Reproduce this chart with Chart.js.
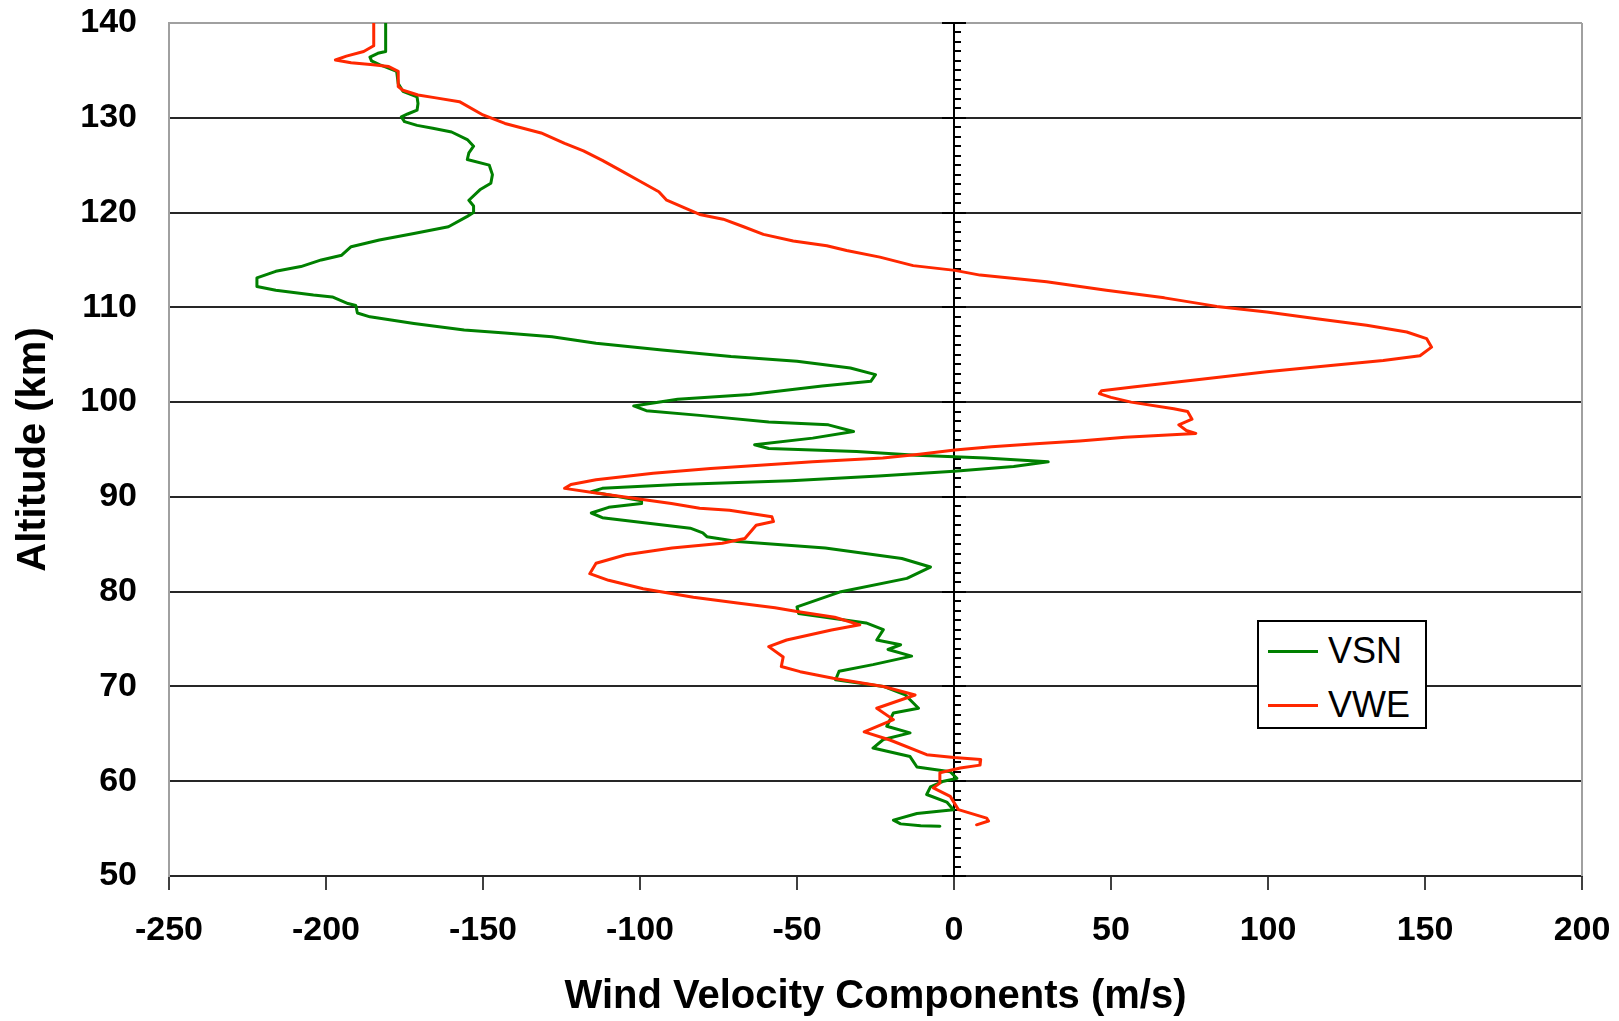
<!DOCTYPE html>
<html>
<head>
<meta charset="utf-8">
<title>Wind Velocity Components</title>
<script src="https://cdn.jsdelivr.net/npm/chart.js@4.4.1/dist/chart.umd.min.js"></script>
<style>
  html, body { margin: 0; padding: 0; background: #fff; }
  #wrap { position: relative; width: 1619px; height: 1021px; }
  #windChart { position: absolute; left: 0; top: 0; }
  #legend {
    position: absolute; left: 1257px; top: 620px; width: 170px; height: 109px;
    box-sizing: border-box; border: 2px solid #000; background: #fff; padding-top: 2px;
    font-family: "Liberation Sans", Arial, sans-serif; font-size: 36px; color: #000;
  }
  #legend .row { height: 54px; line-height: 54px; white-space: nowrap; }
  #legend .swatch {
    display: inline-block; width: 50px; height: 3px; vertical-align: middle;
    margin-left: 9px; margin-right: 10px; position: relative; top: -2px;
  }
</style>
</head>
<body>
<div id="wrap">
  <canvas id="windChart" width="1619" height="1021"></canvas>
  <div id="legend"></div>
</div>
<script>
// 軸の目盛り
const velocityTicks = [-250, -200, -150, -100, -50, 0, 50, 100, 150, 200];
const altitudeTicks = [50, 60, 70, 80, 90, 100, 110, 120, 130, 140];

// VSN (south-north) profile: altitude km / velocity m/s
const vsnAltitude = [140, 137.0, 136.8, 136.4, 136.0, 135.6, 135.3, 134.9, 133.6, 132.8, 132.2, 131.5, 130.8, 130.4, 130.1,
    129.6, 129.2, 128.9, 128.5, 127.7, 127.0, 126.3, 125.6, 125.0, 124.0, 123.1, 122.4, 121.3, 120.7, 120.0,
    119.6, 118.5, 117.8, 117.1, 116.4, 115.5, 115.0, 114.3, 113.8, 113.1, 112.2, 111.8, 111.3, 111.1, 110.4,
    110.2, 109.4, 109.0, 108.3, 107.6, 107.3, 106.9, 106.2, 105.5, 104.8, 104.3, 103.6, 102.9, 102.2, 101.7,
    100.8, 100.3, 99.6, 99.1, 98.6, 97.9, 97.6, 96.9, 96.2, 95.5, 95.1, 94.8, 94.4, 94.1, 93.7,
    93.2, 92.7, 92.2, 91.7, 91.3, 90.9, 90.55, 89.6, 89.3, 88.9, 88.3, 87.8, 87.4, 86.7, 86.2,
    85.8, 85.3, 84.6, 83.5, 82.6, 81.4, 80.0, 78.4, 77.7, 76.7, 76.0, 74.9, 74.4, 73.9, 73.2,
    72.3, 71.6, 70.7, 70.0, 69.1, 67.7, 67.2, 65.8, 65.1, 64.4, 63.5, 62.6, 61.5, 61.0, 60.3,
    60.0, 59.4, 58.6, 57.8, 57.0, 56.6, 55.9, 55.5, 55.3, 55.25];
const vsnVelocity = [-181, -181, -183.5, -186, -185.5, -183, -180.5, -177.5, -177, -175.5, -171, -170.7, -171, -174, -176,
    -175, -171, -166, -160, -155, -153, -154.5, -155, -148, -147, -147.5, -151, -154.5, -153, -153,
    -155, -161, -172, -183, -192, -195, -201.5, -208, -216, -222, -222, -216, -204, -198, -193,
    -190.5, -190, -186, -172, -156, -143, -128, -114, -93, -71, -50, -33, -25, -26.5, -42,
    -65, -88, -102, -98, -81, -59, -40, -32, -45, -63.5, -59, -31, -12, 10, 30,
    19, 0, -24, -52, -88, -112, -115.5, -99.5, -99.5, -110, -115.5, -112, -102, -84, -80,
    -78.7, -69, -41, -16.6, -7.5, -15, -36, -50, -49.5, -28, -22.5, -24.6, -17, -21, -13.5,
    -25.8, -36.6, -37.7, -22.5, -15.5, -11.3, -19.3, -21.4, -14, -22.5, -25.8, -14, -11.8, -1.2, 0.9,
    -3.3, -7.5, -8.7, -2.3, -0.2, -11.8, -19.3, -17, -10.6, -4.5];

// VWE (west-east) profile
const vweAltitude = [140, 137.6, 137.0, 136.5, 136.1, 135.8, 135.6, 135.4, 134.9, 133.3, 132.9, 132.4, 132.1, 131.7, 130.3,
    129.4, 128.4, 127.3, 126.5, 125.5, 124.5, 123.3, 122.2, 121.3, 120.3, 119.8, 119.3, 118.5, 117.7, 117.0,
    116.5, 116.0, 115.3, 114.4, 113.9, 113.4, 112.7, 111.8, 111.0, 110.1, 109.5, 108.8, 108.1, 107.4, 106.7,
    105.8, 104.9, 104.4, 103.9, 103.2, 102.3, 101.6, 101.2, 100.9, 100.5, 100.0, 99.3, 99.0, 98.2, 97.6,
    97.0, 96.7, 96.3, 95.9, 95.6, 95.3, 94.95, 94.5, 94.1, 93.7, 93.0, 92.5, 91.8, 91.3, 90.9,
    90.4, 89.85, 89.3, 88.8, 88.6, 87.9, 87.4, 87.0, 85.6, 85.1, 84.6, 83.9, 83.0, 81.9, 81.2,
    80.3, 79.4, 78.8, 78.3, 77.9, 77.3, 76.5, 75.96, 74.9, 74.2, 73.1, 72.1, 71.56, 70.86, 70.0,
    69.1, 67.7, 66.5, 65.2, 64.35, 62.8, 62.5, 62.3, 61.7, 61.4, 60.9, 59.8, 59.3, 58.4, 57.0,
    56.1, 55.8, 55.4];
const vweVelocity = [-184.8, -184.8, -188, -193.5, -197, -192, -185, -180, -177, -177, -175.5, -170.7, -165, -157.5, -150,
    -143, -131.5, -124, -118, -112, -106.5, -100, -94, -91.5, -84.5, -81, -73.5, -67, -60.7, -51.2,
    -40.5, -34.2, -23.6, -13, 0.3, 8.3, 29.5, 48.5, 67, 83.7, 99.6, 115.5, 131.4, 144.2, 150.5,
    152.1, 148.4, 136.7, 120.8, 99.6, 76, 57, 47, 46.3, 50, 56.4, 70, 74.4, 75.8, 71.6,
    74, 77, 54.5, 40, 26, 12, 0.3, -11, -22.7, -45, -77.5, -95.8, -114, -122, -124,
    -114, -102, -90, -81, -71.5, -58, -57.5, -63, -66.6, -73.8, -89.8, -104.5, -114, -116, -110,
    -99, -83, -69, -57, -50, -38, -30, -39, -53.3, -59, -54.4, -55, -49, -38.5, -22.5,
    -12.4, -24.6, -19.3, -28.6, -20.4, -8.7, 0, 8.5, 8.3, 2, -4.5, -4.5, -6.6, -1.2, 1.4,
    10.4, 11, 7.2];

// 高度と速度を {x, y} に変換
function toPoints(alts, vels) {
    return alts.map((a, i) => ({ x: vels[i], y: a }));
}

const fontFamily = '"Liberation Sans", Arial, sans-serif';

// x=0 の縦軸 (目盛り付き) と右枠線
const zeroAxis = {
    id: 'zeroAxis',
    beforeDatasetsDraw(chart) {
        const { ctx, chartArea, scales: { x, y } } = chart;
        const x0 = Math.round(x.getPixelForValue(0));
        ctx.save();
        ctx.strokeStyle = '#a0a0a0';
        ctx.lineWidth = 2;
        ctx.beginPath();
        ctx.moveTo(chartArea.right, chartArea.top);
        ctx.lineTo(chartArea.right, chartArea.bottom);
        ctx.stroke();

        ctx.strokeStyle = '#000';
        ctx.beginPath();
        ctx.moveTo(x0, chartArea.top);
        ctx.lineTo(x0, chartArea.bottom);
        const lo = altitudeTicks[0], hi = altitudeTicks[altitudeTicks.length - 1];
        for (let v = lo; v <= hi; v++) {
            const py = Math.round(y.getPixelForValue(v));
            if (v % 10 === 0) {
                ctx.moveTo(x0 - 12, py);
                ctx.lineTo(x0 + 12, py);
            } else {
                ctx.moveTo(x0, py);
                ctx.lineTo(x0 + 7, py);
            }
        }
        ctx.stroke();
        ctx.restore();
    }
};

const ctx = document.getElementById('windChart').getContext('2d');
const windChart = new Chart(ctx, {
    type: 'scatter',
    data: {
        datasets: [{
            label: 'VSN',
            data: toPoints(vsnAltitude, vsnVelocity),
            borderColor: '#008000',
            backgroundColor: '#008000',
            order: 1
        }, {
            label: 'VWE',
            data: toPoints(vweAltitude, vweVelocity),
            borderColor: '#ff2800',
            backgroundColor: '#ff2800',
            order: 0
        }]
    },
    options: {
        responsive: false,
        animation: false,
        devicePixelRatio: 1,
        layout: { padding: { left: 0, right: 37, top: 23, bottom: 0 } },
        elements: {
            point: { radius: 0, hoverRadius: 0 },
            line: { borderWidth: 3, tension: 0, fill: false, borderJoinStyle: 'round', borderCapStyle: 'round' }
        },
        datasets: { scatter: { showLine: true } },
        plugins: {
            legend: { display: false },
            tooltip: { enabled: false }
        },
        scales: {
            x: {
                type: 'linear',
                min: velocityTicks[0],
                max: velocityTicks[velocityTicks.length - 1],
                afterBuildTicks: scale => { scale.ticks = velocityTicks.map(v => ({ value: v })); },
                afterFit: scale => {
                    scale.height = 145;
                    scale.paddingLeft = 0;
                    scale.paddingRight = 0;
                },
                grid: { drawOnChartArea: false, drawTicks: true, tickLength: 14, color: '#404040', lineWidth: 2 },
                border: { display: true, color: '#262626', width: 2 },
                ticks: { color: '#000', padding: 20, maxRotation: 0, font: { family: fontFamily, size: 34, weight: 'bold' } },
                title: {
                    display: true,
                    text: 'Wind Velocity Components (m/s)',
                    color: '#000',
                    padding: { top: 0, bottom: 0 },
                    font: { family: fontFamily, size: 40, weight: 'bold' }
                }
            },
            y: {
                type: 'linear',
                min: altitudeTicks[0],
                max: altitudeTicks[altitudeTicks.length - 1],
                afterBuildTicks: scale => { scale.ticks = altitudeTicks.map(v => ({ value: v })); },
                afterFit: scale => {
                    scale.width = 169;
                    scale.paddingTop = 0;
                    scale.paddingBottom = 0;
                },
                grid: {
                    drawTicks: false,
                    lineWidth: 2,
                    color: c => (c.tick && c.tick.value === 140 ? '#a0a0a0' : '#262626')
                },
                border: { display: true, color: '#a0a0a0', width: 2 },
                ticks: { color: '#000', padding: 32, font: { family: fontFamily, size: 34, weight: 'bold' } },
                title: {
                    display: true,
                    text: 'Altitude (km)',
                    color: '#000',
                    padding: { top: 10, bottom: 0 },
                    font: { family: fontFamily, size: 40, weight: 'bold' }
                }
            }
        }
    },
    plugins: [zeroAxis]
});

// 凡例 (グラフ内の枠)
const legendBox = document.getElementById('legend');
windChart.data.datasets.forEach(ds => {
    const row = document.createElement('div');
    row.className = 'row';
    row.innerHTML = `<span class="swatch" style="background:${ds.borderColor}"></span>${ds.label}`;
    legendBox.appendChild(row);
});
</script>
</body>
</html>
